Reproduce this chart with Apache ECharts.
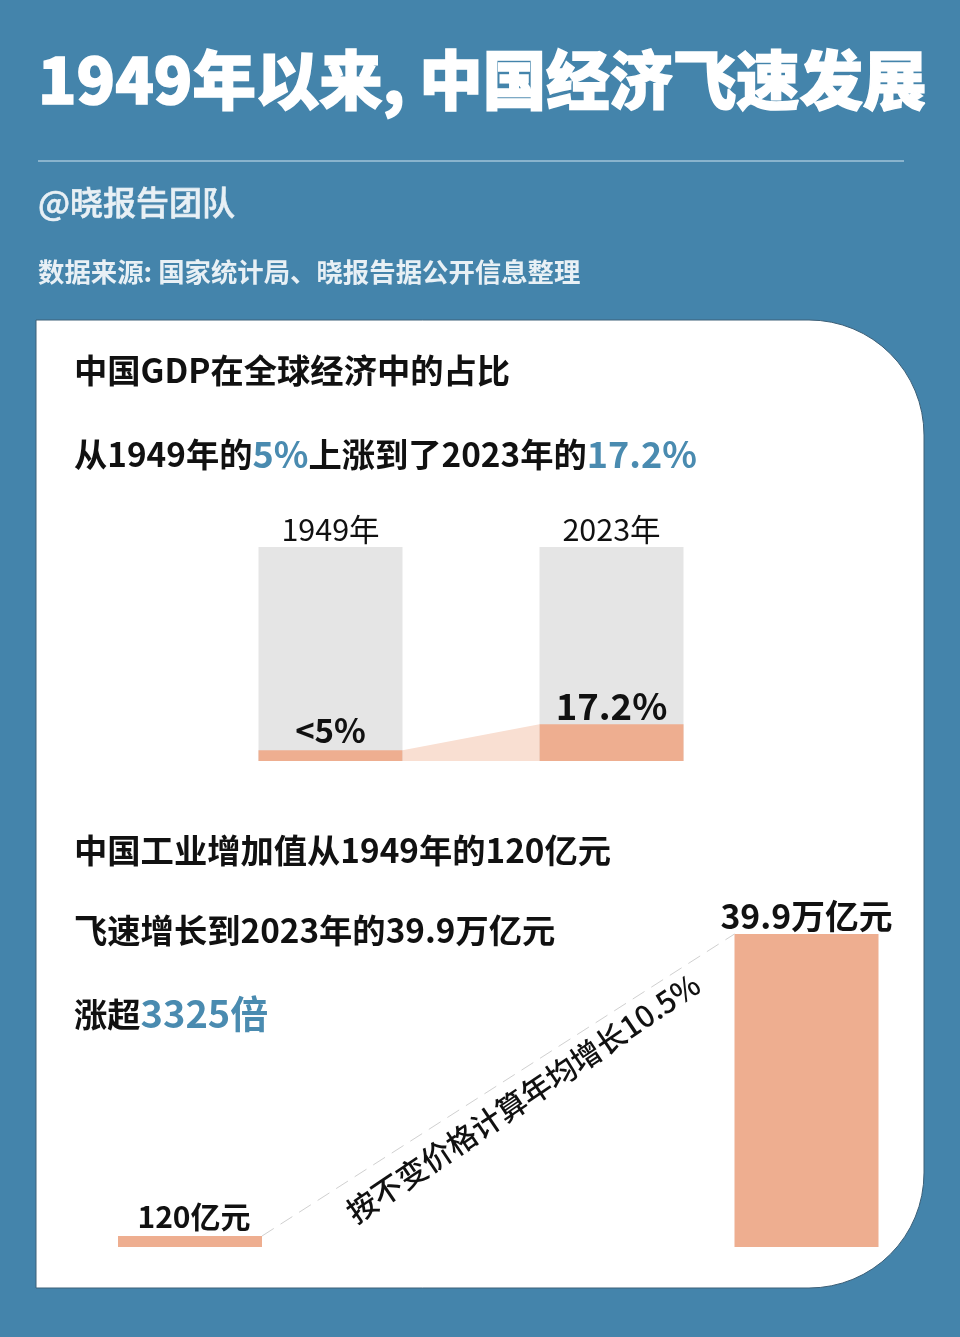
<!DOCTYPE html>
<html>
<head>
<meta charset="utf-8">
<title>1949年以来，中国经济飞速发展</title>
<style>
  html, body { margin: 0; padding: 0; background: #4484ab; }
  #chart { width: 960px; height: 1337px; }
</style>
<script src="https://cdn.jsdelivr.net/npm/echarts@6/dist/echarts.min.js"></script>
</head>
<body>
<div id="chart"></div>
<script>
  // GDP share of the world economy, percent
  var shareYears = ['1949年', '2023年'];
  var shareValues = [5, 17.2];
  var shareLabels = ['<5%', '17.2%'];
  var shareTotal = [100, 100];

  // industrial value added, 万亿元 (120亿元 = 0.012万亿元)
  var industryYears = ['1949年', '2023年'];
  var industryValues = [0.012, 39.9];
  var industryLabels = ['120亿元', '39.9万亿元'];

  var pageTitle = '1949年以来, 中国经济飞速发展';
  var pageAuthor = '@晓报告团队';
  var pageSource = '数据来源: 国家统计局、晓报告据公开信息整理';
  var growthNote = '按不变价格计算年均增长10.5%';

  var BLUE = '#4484ab';
  var ACCENT = '#4a8bb0';
  var ORANGE = '#eeae90';
  var FONT = '"Noto Sans CJK SC", "Noto Sans", sans-serif';
  var BAR_W = 144;
  var MIN_BAR = 11; // the 1949 industry bar is drawn as a sliver, not to scale

  function head(text, y) {
    return {
      type: 'text', x: 74, y: y,
      style: {
        text: text, fontFamily: FONT, fontSize: 33.3, fontWeight: 700, fill: '#111',
        verticalAlign: 'middle',
        rich: {
          hi: { fontFamily: FONT, fontSize: 36, fontWeight: 700, fill: ACCENT },
          big: { fontFamily: FONT, fontSize: 38, fontWeight: 700, fill: ACCENT }
        }
      }
    };
  }

  var myChart = echarts.init(document.getElementById('chart'), null, { renderer: 'canvas' });

  var option = {
    backgroundColor: BLUE,
    animation: false,
    graphic: [
      // white card
      {
        type: 'rect', z: 0,
        shape: { x: 36, y: 320, width: 888, height: 968, r: [0, 115, 115, 0] },
        style: { fill: '#fff', stroke: '#3d6078', lineWidth: 1 }
      },
      {
        type: 'line', z: 0,
        shape: { x1: 38, y1: 161, x2: 904, y2: 161 },
        style: { stroke: '#cfe3ef', lineWidth: 1 }
      },
      {
        type: 'text', x: 38, y: 80,
        style: {
          text: pageTitle, fontFamily: FONT, fontSize: 63.4, fontWeight: 900, fill: '#fff',
          stroke: '#fff', lineWidth: 1.5, verticalAlign: 'middle'
        }
      },
      {
        type: 'text', x: 38, y: 202,
        style: { text: pageAuthor, fontFamily: FONT, fontSize: 33, fontWeight: 500, fill: '#e8f0f5', stroke: '#e8f0f5', lineWidth: 0.6, verticalAlign: 'middle' }
      },
      {
        type: 'text', x: 38, y: 272,
        style: { text: pageSource, fontFamily: FONT, fontSize: 26.4, fontWeight: 700, fill: '#e8f0f5', verticalAlign: 'middle' }
      },
      head('中国GDP在全球经济中的占比', 370),
      head('从1949年的{hi|5%}上涨到了2023年的{hi|17.2%}', 454),
      head('中国工业增加值从1949年的120亿元', 850),
      head('飞速增长到2023年的39.9万亿元', 930),
      head('涨超{big|3325倍}', 1014),
      {
        type: 'text', x: 523, y: 1098, rotation: 34 * Math.PI / 180,
        style: { text: growthNote, fontFamily: FONT, fontSize: 30, fontWeight: 500, fill: '#111', align: 'center', verticalAlign: 'middle' }
      }
    ],
    grid: [
      { left: 190, width: 562, top: 547, height: 214 },
      { left: 190, width: 616.5, top: 934, height: 313 }
    ],
    xAxis: [
      {
        type: 'category', gridIndex: 0, position: 'top', data: shareYears,
        axisLine: { show: false }, axisTick: { show: false },
        axisLabel: { color: '#111', fontFamily: FONT, fontSize: 30.5, margin: 2 }
      },
      { type: 'category', gridIndex: 1, data: industryYears, show: false, boundaryGap: false }
    ],
    yAxis: [
      { type: 'value', gridIndex: 0, min: 0, max: 100, show: false },
      { type: 'value', gridIndex: 1, min: 0, max: 39.9, show: false }
    ],
    series: [
      {
        type: 'bar', xAxisIndex: 0, yAxisIndex: 0, barWidth: BAR_W,
        data: shareTotal, barGap: '-100%',
        itemStyle: { color: '#e5e5e5' }, silent: true
      },
      {
        type: 'bar', xAxisIndex: 0, yAxisIndex: 0, barWidth: BAR_W,
        data: shareValues.map(function (v, i) {
          return { value: v, label: { distance: i ? 0 : 3 } };
        }),
        itemStyle: { color: ORANGE },
        label: {
          show: true, position: 'top', color: '#111',
          fontFamily: FONT, fontWeight: 700,
          formatter: function (p) { return '{' + (p.dataIndex ? 'big' : 'small') + '|' + shareLabels[p.dataIndex] + '}'; },
          rich: {
            small: { fontFamily: FONT, fontWeight: 700, color: '#111', fontSize: 33 },
            big: { fontFamily: FONT, fontWeight: 700, color: '#111', fontSize: 36.5 }
          }
        }
      },
      {
        // pale band joining the two share bars
        type: 'custom', xAxisIndex: 0, yAxisIndex: 0, data: [0],
        renderItem: function (params, api) {
          var a = api.coord([0, shareValues[0]]);
          var b = api.coord([1, shareValues[1]]);
          var base = api.coord([0, 0])[1];
          var x1 = a[0] + BAR_W / 2, x2 = b[0] - BAR_W / 2;
          return {
            type: 'polygon',
            shape: { points: [[x1, a[1]], [x2, b[1]], [x2, base], [x1, base]] },
            style: { fill: '#f9dfd2' }
          };
        }
      },
      {
        type: 'bar', xAxisIndex: 1, yAxisIndex: 1, barWidth: BAR_W, barMinHeight: MIN_BAR, clip: false,
        data: industryValues.map(function (v, i) {
          return { value: v, label: { distance: i ? 1 : 4, offset: [i ? 0 : 4, 0] } };
        }),
        itemStyle: { color: ORANGE },
        label: {
          show: true, position: 'top', color: '#111',
          fontFamily: FONT, fontWeight: 700,
          formatter: function (p) { return '{' + (p.dataIndex ? 'big' : 'small') + '|' + industryLabels[p.dataIndex] + '}'; },
          rich: {
            small: { fontFamily: FONT, fontWeight: 700, color: '#111', fontSize: 30 },
            big: { fontFamily: FONT, fontWeight: 700, color: '#111', fontSize: 33.8 }
          }
        }
      },
      {
        // dashed guide between the tops of the two industry bars
        type: 'custom', xAxisIndex: 1, yAxisIndex: 1, data: [0], clip: false,
        renderItem: function (params, api) {
          var a = api.coord([0, 0]);
          var b = api.coord([1, industryValues[1]]);
          return {
            type: 'line',
            shape: { x1: a[0] + BAR_W / 2, y1: a[1] - MIN_BAR, x2: b[0] - BAR_W / 2, y2: b[1] },
            style: { stroke: '#d0d0d0', lineWidth: 1, lineDash: [14, 8] }
          };
        }
      }
    ]
  };

  myChart.setOption(option);
</script>
</body>
</html>
